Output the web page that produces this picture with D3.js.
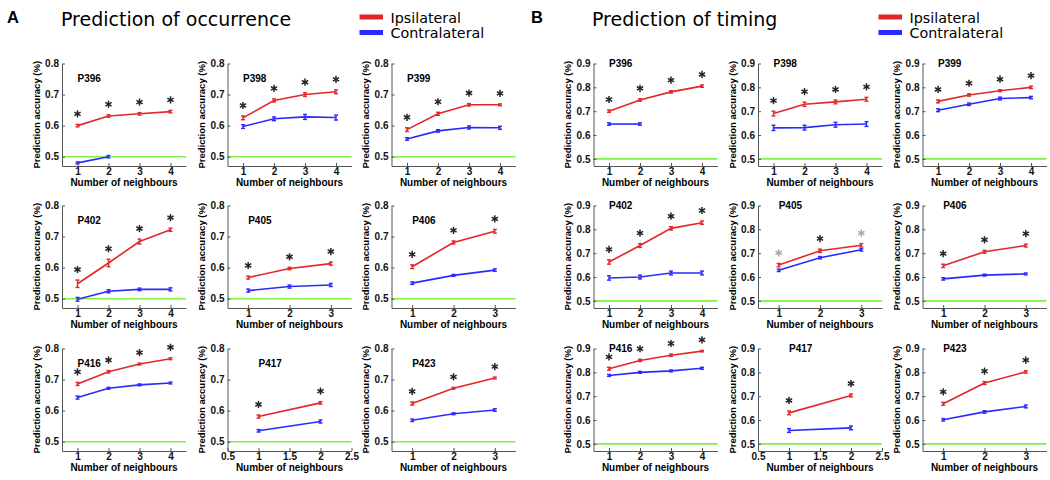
<!DOCTYPE html>
<html>
<head>
<meta charset="utf-8">
<script src="https://cdn.jsdelivr.net/npm/d3@7"></script>
<style>
  body { margin: 0; background: #fff; }
  .tick text { font-family: "Liberation Sans", Arial, sans-serif; font-weight: bold; font-size: 10px; fill: #111; }
  .axis path, .axis line { stroke: #555; }
</style>
</head>
<body>
<div id="chart"></div>
<script>
// patients, one small panel each (3 x 3 grid per half)
var patients = ["P396", "P398", "P399", "P402", "P405", "P406", "P416", "P417", "P423"];

// x tick labels per panel (number of neighbours)
var xTickSets = [
  [1, 2, 3, 4], [1, 2, 3, 4], [1, 2, 3, 4],
  [1, 2, 3, 4], [1, 2, 3], [1, 2, 3],
  [1, 2, 3, 4], [0.5, 1, 1.5, 2, 2.5], [1, 2, 3]
];
var xDomains = [
  [0.5, 4.5], [0.5, 4.5], [0.5, 4.5],
  [0.5, 4.5], [0.5, 3.5], [0.5, 3.5],
  [0.5, 4.5], [0.5, 2.5], [0.5, 3.5]
];

// A: prediction of occurrence
var occTicksY = [0.5, 0.6, 0.7, 0.8];
var occIpsi = [
  [0.600, 0.631, 0.638, 0.645], [0.625, 0.681, 0.700, 0.709], [0.587, 0.638, 0.667, 0.667],
  [0.548, 0.615, 0.684, 0.722], [0.568, 0.597, 0.613], [0.603, 0.681, 0.717],
  [0.686, 0.725, 0.750, 0.767], [0.581, 0.625], [0.623, 0.672, 0.705]
];
var occIpsiErr = [
  [0.004, 0.004, 0.004, 0.004], [0.006, 0.005, 0.006, 0.006], [0.006, 0.005, 0.004, 0.003],
  [0.012, 0.012, 0.008, 0.005], [0.005, 0.004, 0.005], [0.006, 0.005, 0.006],
  [0.005, 0.004, 0.003, 0.003], [0.005, 0.004], [0.005, 0.003, 0.003]
];
var occContra = [
  [0.480, 0.500], [0.597, 0.622, 0.628, 0.626], [0.557, 0.583, 0.594, 0.593],
  [0.498, 0.524, 0.530, 0.530], [0.526, 0.539, 0.544], [0.550, 0.575, 0.592],
  [0.642, 0.672, 0.683, 0.689], [0.535, 0.565], [0.569, 0.590, 0.602]
];
var occContraErr = [
  [0.003, 0.004], [0.006, 0.006, 0.008, 0.008], [0.004, 0.004, 0.005, 0.005],
  [0.006, 0.005, 0.004, 0.005], [0.005, 0.005, 0.005], [0.004, 0.003, 0.004],
  [0.005, 0.003, 0.003, 0.003], [0.004, 0.005], [0.004, 0.003, 0.004]
];
// 1 = black star, 2 = grey star, 0 = none
var occStars = [
  [1, 1, 1, 1], [1, 1, 1, 1], [1, 1, 1, 1],
  [1, 1, 1, 1], [1, 1, 1], [1, 1, 1],
  [1, 1, 1, 1], [1, 1], [1, 1, 1]
];

// B: prediction of timing
var timTicksY = [0.5, 0.6, 0.7, 0.8, 0.9];
var timIpsi = [
  [0.700, 0.747, 0.781, 0.805], [0.690, 0.729, 0.739, 0.750], [0.741, 0.768, 0.786, 0.800],
  [0.663, 0.732, 0.804, 0.828], [0.650, 0.710, 0.733], [0.647, 0.706, 0.732],
  [0.815, 0.850, 0.872, 0.889], [0.630, 0.703], [0.668, 0.755, 0.802]
];
var timIpsiErr = [
  [0.005, 0.005, 0.005, 0.005], [0.010, 0.009, 0.008, 0.008], [0.006, 0.005, 0.004, 0.005],
  [0.009, 0.008, 0.007, 0.007], [0.007, 0.007, 0.007], [0.007, 0.006, 0.006],
  [0.006, 0.005, 0.005, 0.003], [0.008, 0.006], [0.006, 0.006, 0.005]
];
var timContra = [
  [0.646, 0.646], [0.630, 0.631, 0.643, 0.646], [0.704, 0.729, 0.753, 0.757],
  [0.596, 0.600, 0.617, 0.617], [0.628, 0.681, 0.714], [0.592, 0.608, 0.613],
  [0.787, 0.800, 0.806, 0.817], [0.556, 0.567], [0.601, 0.634, 0.657]
];
var timContraErr = [
  [0.005, 0.005], [0.011, 0.010, 0.010, 0.010], [0.006, 0.005, 0.006, 0.005],
  [0.009, 0.008, 0.008, 0.008], [0.005, 0.005, 0.005], [0.005, 0.004, 0.004],
  [0.004, 0.004, 0.004, 0.004], [0.008, 0.008], [0.005, 0.005, 0.006]
];
var timStars = [
  [1, 1, 1, 1], [1, 1, 1, 1], [1, 1, 1, 1],
  [1, 1, 1, 1], [2, 1, 2], [1, 1, 1],
  [1, 1, 1, 1], [1, 1], [1, 1, 1]
];

var chance = 0.5;
var seriesNames = ["Ipsilateral", "Contralateral"];
var seriesColors = ["#e3262a", "#2a2aff"];

var svgWidth = 1050;
var svgHeight = 480;
var plotW = 124;
var plotH = 102.5;
var rowTops = [63.5, 205.5, 348.5];

var svg = d3.select("#chart")
  .append("svg")
  .attr("width", svgWidth)
  .attr("height", svgHeight);

var halves = [
  { letter: "A", title: "Prediction of occurrence", letterX: 7, titleX: 61, legendX: 359.5,
    colX: [62, 227.5, 391.5], yDomain: [0.47, 0.8], yTicks: occTicksY, labelDy: 18,
    ipsi: occIpsi, ipsiErr: occIpsiErr, contra: occContra, contraErr: occContraErr, stars: occStars },
  { letter: "B", title: "Prediction of timing", letterX: 531, titleX: 592, legendX: 878.5,
    colX: [593.5, 758, 922.5], yDomain: [0.47, 0.9], yTicks: timTicksY, labelDy: 3,
    ipsi: timIpsi, ipsiErr: timIpsiErr, contra: timContra, contraErr: timContraErr, stars: timStars }
];

halves.forEach(function(h) {
  // header
  svg.append("text")
    .attr("x", h.letterX).attr("y", 22.5)
    .style("font-family", "'Liberation Sans', Arial, sans-serif")
    .style("font-weight", "bold").style("font-size", "16.5px")
    .text(h.letter);
  svg.append("text")
    .attr("x", h.titleX).attr("y", 25.7)
    .style("font-family", "'DejaVu Sans', sans-serif")
    .style("font-size", "19px")
    .text(h.title);

  seriesNames.forEach(function(name, i) {
    svg.append("rect")
      .attr("x", h.legendX).attr("y", 14.5 + i * 15.5)
      .attr("width", 23.5).attr("height", 5)
      .attr("fill", seriesColors[i]);
    svg.append("text")
      .attr("x", h.legendX + 31).attr("y", 22.5 + i * 15.8)
      .style("font-family", "'DejaVu Sans', sans-serif")
      .style("font-size", "14.3px")
      .text(name);
  });

  patients.forEach(function(p, k) {
    var row = Math.floor(k / 3), col = k % 3;
    var g = svg.append("g")
      .attr("transform", `translate(${h.colX[col]}, ${rowTops[row]})`);

    var x = d3.scaleLinear().domain(xDomains[k]).range([0, plotW]);
    var y = d3.scaleLinear().domain(h.yDomain).range([plotH, 0]);

    // chance line
    g.append("line")
      .attr("x1", 0).attr("x2", plotW)
      .attr("y1", y(chance)).attr("y2", y(chance))
      .attr("stroke", "#80f048").attr("stroke-width", 1.6);

    g.append("g")
      .attr("class", "axis")
      .call(d3.axisLeft(y).tickValues(h.yTicks).tickSizeInner(-3).tickSizeOuter(0)
        .tickPadding(3).tickFormat(d3.format(".1f")));

    g.append("g")
      .attr("class", "axis")
      .attr("transform", `translate(0, ${plotH})`)
      .call(d3.axisBottom(x).tickValues(xTickSets[k]).tickSizeInner(-3).tickSizeOuter(0)
        .tickPadding(2).tickFormat(function(d) { return String(d); }));

    g.append("text")
      .attr("x", plotW / 2).attr("y", plotH + 20)
      .attr("text-anchor", "middle")
      .style("font-family", "'Liberation Sans', Arial, sans-serif")
      .style("font-weight", "bold").style("font-size", "10px")
      .text("Number of neighbours");

    g.append("text")
      .attr("transform", `translate(-22.5, ${plotH / 2}) rotate(-90)`)
      .attr("text-anchor", "middle")
      .style("font-family", "'Liberation Sans', Arial, sans-serif")
      .style("font-weight", "bold").style("font-size", "9.5px")
      .text("Prediction accuracy (%)");

    g.append("text")
      .attr("x", x(1)).attr("y", h.labelDy)
      .style("font-family", "'Liberation Sans', Arial, sans-serif")
      .style("font-weight", "bold").style("font-size", "10px")
      .text(p);

    var series = [
      { vals: h.ipsi[k], errs: h.ipsiErr[k], color: seriesColors[0] },
      { vals: h.contra[k], errs: h.contraErr[k], color: seriesColors[1] }
    ];

    // contralateral drawn first, ipsilateral on top
    series.slice().reverse().forEach(function(s) {
      var pts = s.vals.map(function(v, i) { return { n: i + 1, v: v, e: s.errs[i] }; });
      var line = d3.line().x(function(d) { return x(d.n); }).y(function(d) { return y(d.v); });
      g.append("path")
        .datum(pts)
        .attr("d", line)
        .attr("fill", "none")
        .attr("stroke", s.color)
        .attr("stroke-width", 1.6);

      var eb = g.selectAll(null).data(pts).enter().append("g")
        .attr("stroke", s.color).attr("stroke-width", 1.4);
      eb.append("line")
        .attr("x1", function(d) { return x(d.n); }).attr("x2", function(d) { return x(d.n); })
        .attr("y1", function(d) { return y(d.v - d.e); }).attr("y2", function(d) { return y(d.v + d.e); });
      eb.append("line")
        .attr("x1", function(d) { return x(d.n) - 2; }).attr("x2", function(d) { return x(d.n) + 2; })
        .attr("y1", function(d) { return y(d.v - d.e); }).attr("y2", function(d) { return y(d.v - d.e); });
      eb.append("line")
        .attr("x1", function(d) { return x(d.n) - 2; }).attr("x2", function(d) { return x(d.n) + 2; })
        .attr("y1", function(d) { return y(d.v + d.e); }).attr("y2", function(d) { return y(d.v + d.e); });
    });

    // significance stars above ipsilateral points
    var starPts = h.ipsi[k].map(function(v, i) {
      return { n: i + 1, top: v + h.ipsiErr[k][i], s: h.stars[k][i] };
    }).filter(function(d) { return d.s > 0; });

    var star = g.selectAll(".star").data(starPts).enter().append("g")
      .attr("class", "star")
      .attr("transform", function(d) { return `translate(${x(d.n)}, ${y(d.top) - 10.5})`; })
      .attr("stroke", function(d) { return d.s === 1 ? "#222" : "#a8a8a8"; })
      .attr("stroke-width", 1.5);
    [0, 60, 120].forEach(function(a) {
      star.append("line")
        .attr("x1", 0).attr("y1", -3.6).attr("x2", 0).attr("y2", 3.6)
        .attr("transform", `rotate(${a})`);
    });
  });
});
</script>
</body>
</html>
